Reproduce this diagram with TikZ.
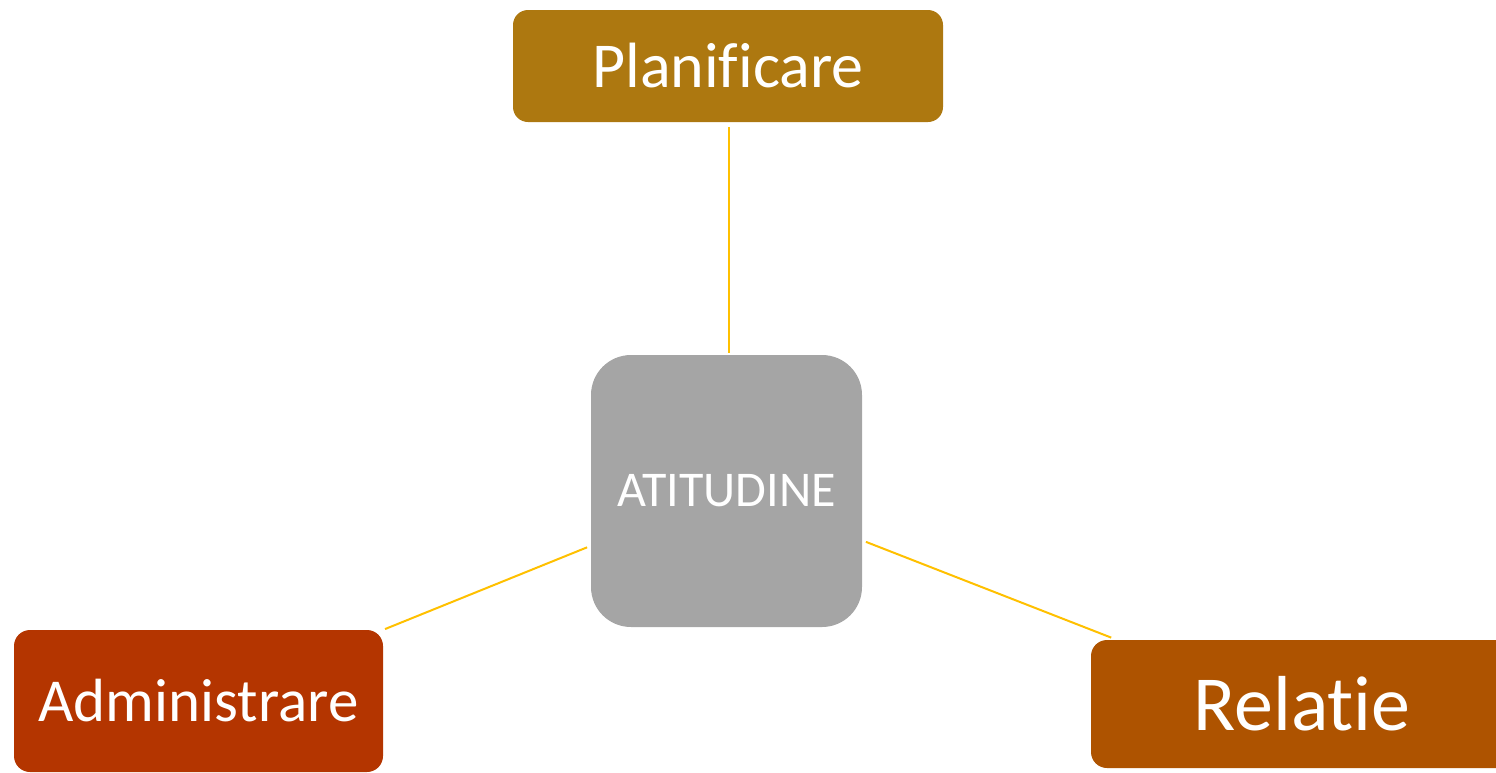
\documentclass[tikz,border=0pt]{standalone}
\usepackage{fontspec}
\setmainfont{Carlito}[Ligatures={NoCommon,NoRequired,NoContextual}]
\definecolor{planc}{RGB}{173,120,16}
\definecolor{adminc}{RGB}{180,53,0}
\definecolor{relc}{RGB}{174,83,0}
\definecolor{greyc}{RGB}{165,165,165}
\definecolor{linkc}{RGB}{255,192,0}
\tikzset{
  box/.style={rectangle, inner sep=0pt, text=white, draw=none},
  link/.style={draw=linkc, line width=2pt}
}
\begin{document}
\begin{tikzpicture}[x=1pt,y=-1pt]
\useasboundingbox (0,0) rectangle (1496,772);
\begin{scope}
\clip (0,0) rectangle (1496,772);
\node[box, fill=planc, rounded corners=15pt, minimum width=430pt, minimum height=112pt,
  font=\fontsize{64}{70}\selectfont] (p) at (728,66) {Planificare};
\node[box, fill=greyc, rounded corners=40pt, minimum width=271pt, minimum height=272pt,
  font=\fontsize{50}{56}\selectfont] (c) at (726.5,491) {ATITUDINE};
\node[box, fill=adminc, rounded corners=16pt, minimum width=369pt, minimum height=142pt,
  font=\fontsize{61}{68}\selectfont] (a) at (198.5,701) {Administrare};
\node[box, fill=relc, rounded corners=16pt, minimum width=422pt, minimum height=128pt,
  font=\fontsize{78}{86}\selectfont] (r) at (1302,704) {Relatie};
\end{scope}
\draw[link, shorten <=5pt, shorten >=2pt] ([xshift=1pt]p.south) -- ([xshift=1pt]p.south |- c.north);
\draw[link, shorten <=4pt, shorten >=2pt] (c.202.5) -- (a.north east);
\draw[link, shorten <=4pt, shorten >=6pt] (c.-20.6) -- ([xshift=26pt]r.north west);
\end{tikzpicture}
\end{document}
